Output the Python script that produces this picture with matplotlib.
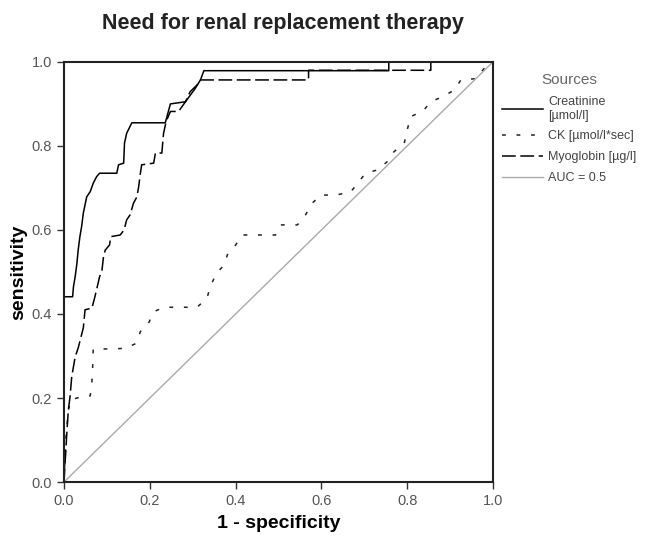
"""ROC curves: need for renal replacement therapy."""

import matplotlib

matplotlib.use("Agg")
import matplotlib.pyplot as plt

plt.rcParams["font.family"] = ["Liberation Sans", "DejaVu Sans"]

# ROC points (1 - specificity, sensitivity)
creat_fpr = [0.0, 0.0, 0.006, 0.02, 0.022, 0.026, 0.03, 0.033, 0.037, 0.041,
             0.045, 0.049, 0.053, 0.061, 0.068, 0.076, 0.083, 0.123, 0.127,
             0.139, 0.141, 0.146, 0.158, 0.236, 0.248, 0.283, 0.306, 0.318,
             0.326, 0.757, 0.757, 1.0]
creat_tpr = [0.0, 0.441, 0.441, 0.441, 0.465, 0.489, 0.52, 0.552, 0.584, 0.608,
             0.64, 0.66, 0.679, 0.691, 0.711, 0.727, 0.735, 0.735, 0.755,
             0.759, 0.807, 0.83, 0.855, 0.855, 0.90, 0.905, 0.937, 0.957,
             0.979, 0.979, 1.0, 1.0]

ck_fpr = [0.0, 0.004, 0.01, 0.015, 0.03, 0.061, 0.065, 0.067, 0.068, 0.143,
          0.168, 0.178, 0.197, 0.209, 0.232, 0.31, 0.333, 0.341, 0.355, 0.372,
          0.382, 0.4, 0.415, 0.493, 0.505, 0.544, 0.563, 0.579, 0.598, 0.633,
          0.668, 0.684, 0.703, 0.731, 0.754, 0.769, 0.793, 0.8, 0.808, 0.836,
          0.855, 0.882, 0.91, 0.925, 0.96, 0.99, 1.0]
ck_tpr = [0.0, 0.1, 0.17, 0.195, 0.2, 0.205, 0.239, 0.279, 0.316, 0.318,
          0.33, 0.358, 0.378, 0.405, 0.416, 0.416, 0.437, 0.465, 0.497, 0.515,
          0.544, 0.564, 0.588, 0.588, 0.612, 0.612, 0.636, 0.664, 0.683, 0.683,
          0.69, 0.711, 0.735, 0.743, 0.763, 0.786, 0.806, 0.838, 0.87, 0.882,
          0.905, 0.917, 0.933, 0.957, 0.96, 0.998, 1.0]

myo_fpr = [0.0, 0.002, 0.006, 0.01, 0.014, 0.018, 0.026, 0.033, 0.045, 0.049,
           0.065, 0.072, 0.083, 0.088, 0.092, 0.096, 0.106, 0.109, 0.131, 0.14,
           0.146, 0.154, 0.162, 0.17, 0.174, 0.178, 0.181, 0.209, 0.213, 0.228,
           0.232, 0.238, 0.248, 0.267, 0.283, 0.294, 0.31, 0.318, 0.57, 0.57,
           0.855, 0.855, 1.0]
myo_tpr = [0.0, 0.036, 0.108, 0.171, 0.203, 0.251, 0.298, 0.319, 0.367, 0.41,
           0.414, 0.441, 0.489, 0.5, 0.536, 0.552, 0.564, 0.584, 0.588, 0.6,
           0.624, 0.636, 0.664, 0.679, 0.703, 0.735, 0.755, 0.759, 0.783, 0.783,
           0.83, 0.858, 0.882, 0.882, 0.905, 0.929, 0.945, 0.957, 0.957, 0.98,
           0.98, 1.0, 1.0]

ref_line = [0.0, 1.0]

labels = ["Creatinine\n[µmol/l]", "CK [µmol/l*sec]", "Myoglobin [µg/l]", "AUC = 0.5"]

fig = plt.figure(figsize=(6.5, 5.38), dpi=100)
ax = fig.add_axes([0.0985, 0.104, 0.66, 0.781])

ax.plot(creat_fpr, creat_tpr, color="black", linewidth=1.1, label=labels[0])
ax.plot(ck_fpr, ck_tpr, color="#222222", linewidth=1.1, dashes=(2.5, 7),
        label=labels[1])
ax.plot(myo_fpr, myo_tpr, color="black", linewidth=1.1, dashes=(9, 3),
        label=labels[2])
ax.plot(ref_line, ref_line, color="#aaaaaa", linewidth=1.0, label=labels[3])

ax.set_xlim(0, 1)
ax.set_ylim(0, 1)
ax.set_xticks([0, 0.2, 0.4, 0.6, 0.8, 1.0])
ax.set_yticks([0, 0.2, 0.4, 0.6, 0.8, 1.0])
ax.xaxis.set_major_formatter(plt.FormatStrFormatter("%.1f"))
ax.yaxis.set_major_formatter(plt.FormatStrFormatter("%.1f"))
ax.tick_params(direction="out", length=5, width=1.0, labelsize=10.5,
               labelcolor="#555555", color="#333333")
for sp in ax.spines.values():
    sp.set_linewidth(1.5)
    sp.set_color("#222222")

ax.set_xlabel("1 - specificity", fontsize=14, fontweight="bold", labelpad=5)
ax.set_ylabel("sensitivity", fontsize=14, fontweight="bold", labelpad=3)
fig.suptitle("Need for renal replacement therapy", x=0.435, y=0.975,
             fontsize=15.5, fontweight="bold", color="#222222")

leg = ax.legend(loc="upper left", bbox_to_anchor=(0.995, 1.0), frameon=False,
                title="Sources", fontsize=9, handlelength=3.3,
                handletextpad=0.4, labelspacing=0.7, labelcolor="#444444")
leg.get_title().set_color("#666666")
leg.get_title().set_fontsize(11)

fig.savefig("out.png", dpi=100)
